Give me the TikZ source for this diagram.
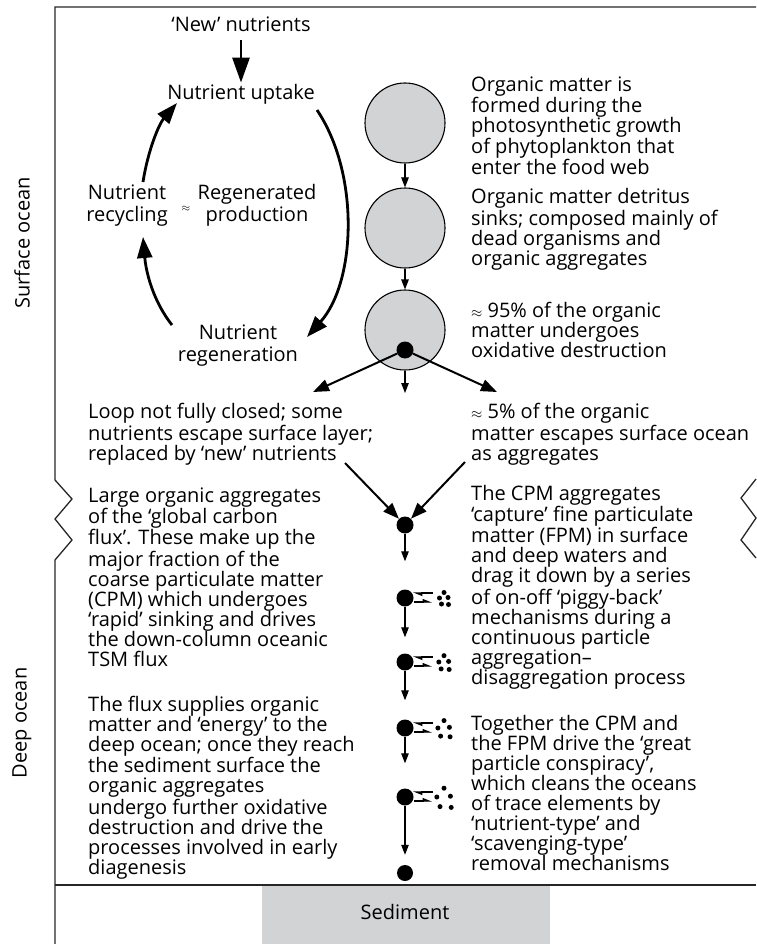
\documentclass[tikz,border=0pt]{standalone}
\usepackage{fontspec}
\setmainfont{Open Sans}
\usetikzlibrary{arrows.meta}

\definecolor{poolgray}{HTML}{D1D3D4}

\begin{document}
\begin{tikzpicture}[x=1pt, y=-1pt,
  every node/.style={inner sep=0pt, font=\fontsize{20}{20}\selectfont},
  note/.style={align=left, anchor=base west},
  loopnote/.style={align=center, anchor=base, font=\fontsize{20}{21.5}\selectfont},
  pool/.style={draw=black, line width=1.1pt, circle, fill=poolgray, minimum size=80pt},
  agg/.style={circle, fill=black, minimum size=17pt},
  fine/.style={circle, fill=black, minimum size=5pt},
  flow/.style={line width=2.8pt, -{Triangle[length=21pt, width=15pt]}},
  split/.style={line width=2pt, -{Triangle[length=16pt, width=12pt]}},
  sink/.style={line width=1.1pt, -{Triangle[length=10pt, width=7.5pt]}},
  piggy/.style={line width=1.1pt, -{Triangle[length=8pt, width=6pt, harpoon]}},
  frame/.style={line width=1.3pt, draw=black!85}]
\useasboundingbox (0,0) rectangle (756,944);

% outer frame and sediment
\fill[poolgray] (262,886) rectangle (550,944);
\draw[frame] (756,7) -- (55,7) -- (55,480) -- (72,499) -- (55,519) -- (72,540) -- (55,560) -- (55,944);
\draw[frame] (756,479) -- (741,498) -- (756,518) -- (741,540) -- (756,558);
\draw[frame] (55,885) -- (756,885);
\node (sediment) at (405,912) {Sediment};
\node[rotate=90] (surface) at (22,243) {Surface ocean};
\node[rotate=90] (deep) at (22,723) {Deep ocean};

% nutrient loop (multi-line nodes sit on their last baseline)
\node[loopnote] (newnut) at (241,32) {‘New’ nutrients};
\node[loopnote] (uptake) at (241,100) {Nutrient uptake};
\node[loopnote] (recyc) at (127,221) {Nutrient\\recycling};
\node[loopnote] (regprod) at (257,221) {Regenerated\\production};
\node (approx) at (186,209) {\fontsize{11}{11}\selectfont$\approx$};
\node[loopnote] (regen) at (238,361) {Nutrient\\regeneration};

\draw[flow, -{Triangle[length=25pt, width=17pt]}, shorten <=8pt, shorten >=2pt] (newnut.south) -- (uptake.north);
\coordinate (upR) at (317,110);
\coordinate (regR) at (307,337);
\coordinate (regL) at (172,325);
\coordinate (recL) at (143,237);
\coordinate (recU) at (143,182);
\coordinate (upL) at (177,103);
\draw[flow] (upR) .. controls (360,174) and (356,282) .. (regR);
\draw[flow] (regL) .. controls (153,301) and (146,272) .. (recL);
\draw[flow] (recU) .. controls (148,150) and (159,124) .. (upL);

% surface column
\node[pool] (phyto) at (405,123) {};
\node[pool] (detritus) at (405,228) {};
\node[pool] (oxid) at (405,330) {};
\node[agg] (burn) at (405,350) {};
\coordinate (lossL) at (313,392);
\coordinate (lossR) at (497,392);
\coordinate (down) at (405,393);
\draw[sink] (phyto) -- (detritus);
\draw[sink] (detritus) -- (oxid);
\draw[sink] (oxid.south) -- (down);
\draw[split] (burn) -- (lossL);
\draw[split] (burn) -- (lossR);

\node[note] (formed) at (471,175) {Organic matter is\\formed during the\\photosynthetic growth\\of phytoplankton that\\enter the food web};
\node[note] (sinks) at (471,265) {Organic matter detritus\\sinks; composed mainly of\\dead organisms and\\organic aggregates};
\node[note] (ninetyfive) at (471,357) {{\fontsize{15}{20}\selectfont$\approx$} 95\% of the organic\\matter undergoes\\oxidative destruction};
\node[note] (five) at (471,460) {{\fontsize{15}{20}\selectfont$\approx$} 5\% of the organic\\matter escapes surface ocean\\as aggregates};
\node[note] (notclosed) at (88,460) {Loop not fully closed; some\\nutrients escape surface layer;\\replaced by ‘new’ nutrients};

% deep column
\node[agg] (sink0) at (405,525) {};
\coordinate (conL) at (345,463);
\coordinate (conR) at (465,462);
\draw[split] (conL) -- (sink0);
\draw[split] (conR) -- (sink0);

\foreach \n/\y/\s in {A/598/1.0, B/662/1.15, C/728/1.35, D/797/1.6} {
  \node[agg] (pig\n) at (405,\y) {};
  \draw[piggy] ([shift={(28,-5)}]pig\n.center) -- ([shift={(8,-5)}]pig\n.center);
  \draw[piggy] ([shift={(9,4)}]pig\n.center) -- ([shift={(27,4)}]pig\n.center);
  \foreach \dx/\dy in {0/-5.5, -4.5/0, 4/-0.5, -2.5/6, 4.5/6.5}
    \node[fine] at ({444+\dx*\s}, {\y+\dy*\s}) {};
}
\node[agg, minimum size=16pt] (bed) at (405,873) {};

\draw[sink, shorten >=28pt] (sink0) -- (pigA);
\draw[sink, shorten >=16pt] (pigA) -- (pigB);
\draw[sink, shorten >=19pt] (pigB) -- (pigC);
\draw[sink, shorten >=25pt] (pigC) -- (pigD);
\draw[sink, shorten >=10pt] (pigD) -- (bed);

\node[note] (large) at (88,666) {Large organic aggregates\\of the ‘global carbon\\flux’. These make up the\\major fraction of the\\coarse particulate matter\\(CPM) which undergoes\\‘rapid’ sinking and drives\\the down-column oceanic\\TSM flux};
\node[note] (capture) at (471,684) {The CPM aggregates\\‘capture’ fine particulate\\matter (FPM) in surface\\and deep waters and\\drag it down by a series\\of on-off ‘piggy-back’\\mechanisms during a\\continuous particle\\aggregation–\\disaggregation process};
\node[note] (supplies) at (88,874) {The flux supplies organic\\matter and ‘energy’ to the\\deep ocean; once they reach\\the sediment surface the\\organic aggregates\\undergo further oxidative\\destruction and drive the\\processes involved in early\\diagenesis};
\node[note] (conspiracy) at (471,870) {Together the CPM and\\the FPM drive the ‘great\\particle conspiracy’,\\which cleans the oceans\\of trace elements by\\‘nutrient-type’ and\\‘scavenging-type’\\removal mechanisms};
\end{tikzpicture}
\end{document}
